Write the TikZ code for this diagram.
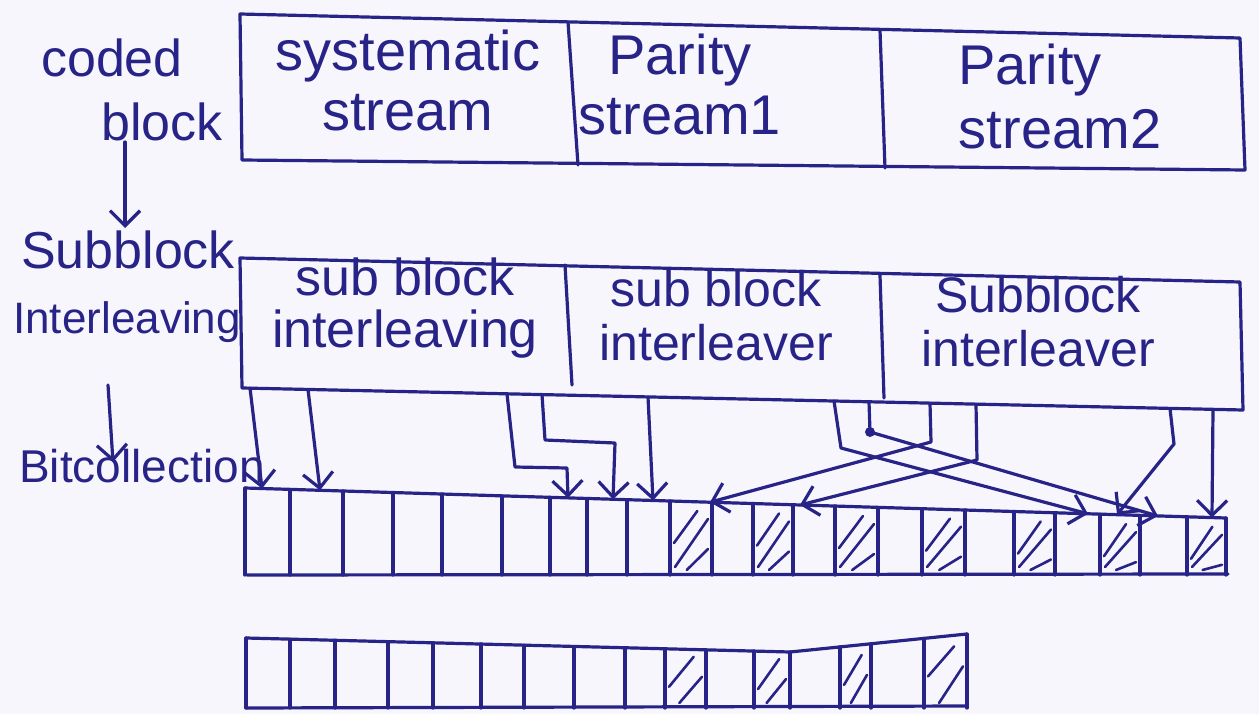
\documentclass[tikz,border=0pt]{standalone}
\usepackage{fontspec}
\setmainfont{Liberation Sans}
\usetikzlibrary{arrows.meta}
\definecolor{ink}{RGB}{40,36,135}
\definecolor{paper}{RGB}{248,246,253}
\tikzset{
  pen/.style={draw=ink, line width=3.2pt, line cap=round, line join=round},
  arr/.style={pen, -{Straight Barb[length=15pt,width=30pt]}},
  hatch/.style={draw=ink, line width=2.6pt, line cap=round},
  lbl/.style={text=ink, font=\fontsize{52}{58}\selectfont, inner sep=0pt, align=center},
}
\begin{document}
\begin{tikzpicture}[x=1pt,y=-1pt]
\fill[paper] (0,0) rectangle (1259,714);
\useasboundingbox (0,0) rectangle (1259,714);

% ---------- left labels ----------
\node[lbl] (codedA) at (112,58) {coded};
\node[lbl] (codedB) at (162,122) {block};
\node[lbl] (sbA) at (128,250) {Subblock};
\node[lbl, font=\fontsize{44}{48}\selectfont] (sbB) at (127,322) {Interleaving};
\node[lbl, font=\fontsize{46}{50}\selectfont] (bc) at (142,466) {Bitcollection};

\coordinate (l1s) at (125,142);
\coordinate (l1e) at (125,228);
\draw[arr] (l1s) -- (l1e);
\coordinate (l2s) at (108,385);
\coordinate (l2e) at (113,462);
\draw[arr] (l2s) -- (l2e);

% ---------- coded block ----------
\draw[pen] (240,14) -- (1240,38) -- (1245,170) -- (242,160) -- cycle;
\draw[pen] (568,22) -- (578,165);
\draw[pen] (880,30) -- (885,168);
\node[lbl, font=\fontsize{56}{60}\selectfont] (t1) at (408,80) {systematic\\stream};
\node[lbl, font=\fontsize{56}{60}\selectfont] (t2) at (680,84) {Parity\\stream1};
\node[lbl, font=\fontsize{56}{64}\selectfont] (t3) at (1030,96) {Parity\\\hspace*{60pt}stream2};

% ---------- subblock interleavers ----------
\draw[pen] (240,258) -- (1240,282) -- (1243,410) -- (242,388) -- cycle;
\draw[pen] (565,265) -- (572,385);
\draw[pen] (880,275) -- (884,398);
\node[lbl, font=\fontsize{52}{52}\selectfont] (s1) at (405,308) {sub block\\interleaving};
\node[lbl, font=\fontsize{50}{54}\selectfont] (s2) at (716,316) {sub block\\interleaver};
\node[lbl, font=\fontsize{50}{54}\selectfont] (s3) at (1038,322) {Subblock\\interleaver};

% ---------- bit collection row ----------
\draw[pen] (245,488) -- (1226,518);
\draw[pen] (247,575) -- (1228,574);
\foreach \x in {245,290,343,393,442,502,550,587,627,670,712,753,793,835,878,922,965,1014,1055,1100,1140,1187,1226}{
  \pgfmathsetmacro\t{488+0.030581*(\x-245)}
  \draw[pen] (\x,\t) -- (\x,575);
}
\foreach \a/\b in {670/712,753/793,835/878,922/965,1014/1055,1100/1140,1187/1226}{
  \pgfmathsetmacro\t{488+0.030581*(\a-245)}
  \pgfmathsetmacro\w{\b-\a}
  \draw[hatch] ({\a+4},{\t+42}) -- ({\a+0.65*\w},{\t+10});
  \draw[hatch] ({\a+5},567) -- ({\b-4},{\t+18});
  \draw[hatch] ({\a+0.4*\w},570) -- ({\b-4},{\t+48});
}

% ---------- arrows into bit row ----------
\coordinate (a1s) at (250,388);  \coordinate (a1e) at (262,488.5);
\coordinate (a2s) at (308,389.5);\coordinate (a2e) at (320,490.3);
\coordinate (a3s) at (507,393.8);\coordinate (a3e) at (568,497.9);
\coordinate (a4s) at (542,394.6);\coordinate (a4e) at (613,499.3);
\coordinate (a5s) at (648,397);  \coordinate (a5e) at (653,500.5);
\draw[arr] (a1s) -- (a1e);
\draw[arr] (a2s) -- (a2e);
\draw[arr] (a3s) -- (515,467) -- (567,468) -- (a3e);
\draw[arr] (a4s) -- (545,440) -- (615,443) -- (a4e);
\draw[arr] (a5s) -- (a5e);

\coordinate (b1s) at (834,401);   \coordinate (b1e) at (1088,513.8);
\coordinate (b2s) at (869,401.8); \coordinate (b2e) at (1158,516);
\coordinate (b3s) at (930,403.2); \coordinate (b3e) at (710,502.2);
\coordinate (b4s) at (976,404.2); \coordinate (b4e) at (800,505);
\coordinate (b5s) at (1170,408.5);\coordinate (b5e) at (1117,514.7);
\coordinate (b6s) at (1213,409.4);\coordinate (b6e) at (1212,517.6);
\draw[arr] (b1s) -- (841,448) -- (b1e);
\draw[arr] (b2s) -- (870,432) -- (b2e);
\fill[ink] (870,432) circle (5);
\draw[arr] (b3s) -- (931,442) -- (b3e);
\draw[arr] (b4s) -- (977,460) -- (b4e);
\draw[arr] (b5s) -- (1174,444) -- (b5e);
\draw[arr] (b6s) -- (b6e);

% ---------- bottom row ----------
\draw[pen] (246,638) -- (790,652) -- (967,634);
\draw[pen] (246,708) -- (967,706);
\foreach \x in {246,290,335,388,433,481,524,574,625,665,706,754,790,840,871,924,967}{
  \pgfmathsetmacro\t{\x<=790 ? 638+0.025735*(\x-246) : 652-0.101695*(\x-790)}
  \draw[pen] (\x,\t) -- (\x,708);
}
\foreach \a/\b in {665/706,754/790,840/871,924/967}{
  \pgfmathsetmacro\t{\a<=790 ? 638+0.025735*(\a-246) : 652-0.101695*(\a-790)}
  \pgfmathsetmacro\w{\b-\a}
  \draw[hatch] ({\a+4},{\t+38}) -- ({\a+0.7*\w},{\t+8});
  \draw[hatch] ({\a+0.35*\w},703) -- ({\b-4},{\t+28});
}
\end{tikzpicture}
\end{document}
